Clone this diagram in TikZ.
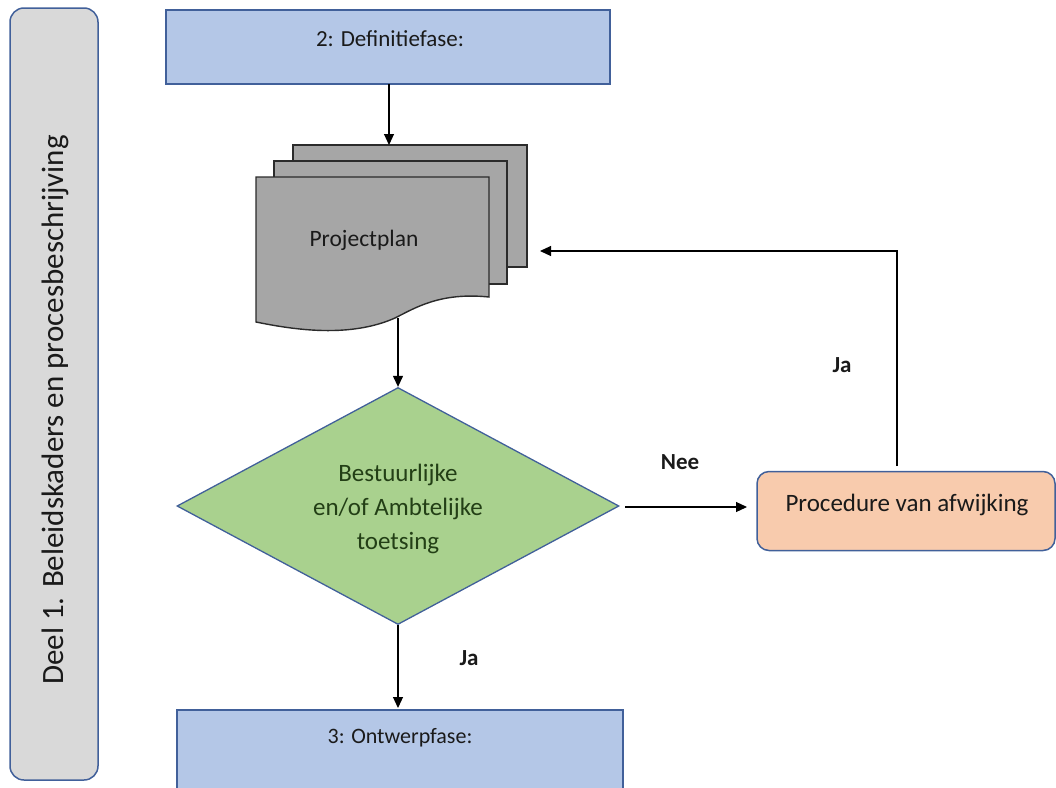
\documentclass[tikz,border=0pt]{standalone}
\usepackage{fontspec}
\setmainfont{Carlito}
\usetikzlibrary{shapes.geometric,arrows.meta}
\definecolor{phasefill}{HTML}{B4C7E7}
\definecolor{phaseline}{HTML}{41609A}
\definecolor{sidefill}{HTML}{D9D9D9}
\definecolor{docfill}{HTML}{A6A6A6}
\definecolor{docline}{HTML}{2B2B2B}
\definecolor{decfill}{HTML}{A9D18E}
\definecolor{dectext}{HTML}{233F16}
\definecolor{procfill}{HTML}{F8CBAD}
\definecolor{txt}{HTML}{1A1A1A}
\tikzset{
  phase/.style={draw=phaseline, line width=1.5pt, fill=phasefill},
  flow/.style={draw=black, line width=1.1pt, -{Triangle[length=11pt,width=10pt]}},
  lbl/.style={font=\fontsize{23}{27}\selectfont\bfseries, text=txt},
  page/.style={draw=docline, line width=1.4pt, fill=docfill},
}
\begin{document}
\begin{tikzpicture}[x=1pt,y=-1pt]
\useasboundingbox (0,0) rectangle (1056,787);

% side bar
\draw[draw=phaseline, line width=1.5pt, fill=sidefill, rounded corners=14pt] (10,8) rectangle (98,780);
\node[rotate=90, text=txt, font=\fontsize{31}{36}\selectfont] (side) at (55,410) {Deel 1. Beleidskaders en procesbeschrijving};

% phase boxes
\draw[phase] (166,10) rectangle (610,84);
\node[text=txt, font=\fontsize{23}{27}\selectfont] (def) at (390,39) {2: Definitiefase:};
\coordinate (defb) at (389,84);

\draw[phase] (177,710) rectangle (623,800);
\node[text=txt, font=\fontsize{22}{26}\selectfont] (ontw) at (400,738) {3: Ontwerpfase:};
\coordinate (ontwt) at (398,708);

% stacked documents
\draw[page] (293,145) rectangle (527,267);
\draw[page] (274,161) rectangle (507,284);
\draw[page] (256,177) -- (489,177) -- (489,297)
  .. controls (440,292) and (415,308) .. (395,318)
  .. controls (350,338) and (295,330) .. (256,322) -- cycle;
\node[text=txt, font=\fontsize{23.5}{28}\selectfont] (plan) at (364,240) {Projectplan};
\coordinate (plantop) at (389,145);
\coordinate (planbot) at (398,318);
\coordinate (planr) at (540,251);

% decision
\node[diamond, draw=phaseline, line width=1.3pt, fill=decfill, minimum width=442pt, minimum height=237pt, inner sep=0pt, aspect=1.86] (dec) at (398,506) {};
\node[text=dectext, align=center, font=\fontsize{25}{34}\selectfont] (dect) at (398,509) {Bestuurlijke\\en/of Ambtelijke\\toetsing};

% procedure
\node[draw=phaseline, line width=1.5pt, fill=procfill, rounded corners=12pt, minimum width=298pt, minimum height=79pt, inner sep=0pt] (proc) at (906,511) {};
\node[text=txt, font=\fontsize{25}{30}\selectfont] (proct) at (907,505) {Procedure van afwijking};
\coordinate (proctop) at (897,466);

% connectors
\draw[flow] (defb) -- (plantop);
\draw[flow] (planbot) -- (dec.north);
\draw[flow] (625,507) -- (747,507);
\draw[flow] (dec.south) -- (ontwt);
\draw[flow] (proctop) -- (897,251) -- (planr);

% labels
\node[lbl] (nee) at (680,462) {Nee};
\node[lbl] (ja1) at (842,365) {Ja};
\node[lbl] (ja2) at (469,658) {Ja};
\end{tikzpicture}
\end{document}
